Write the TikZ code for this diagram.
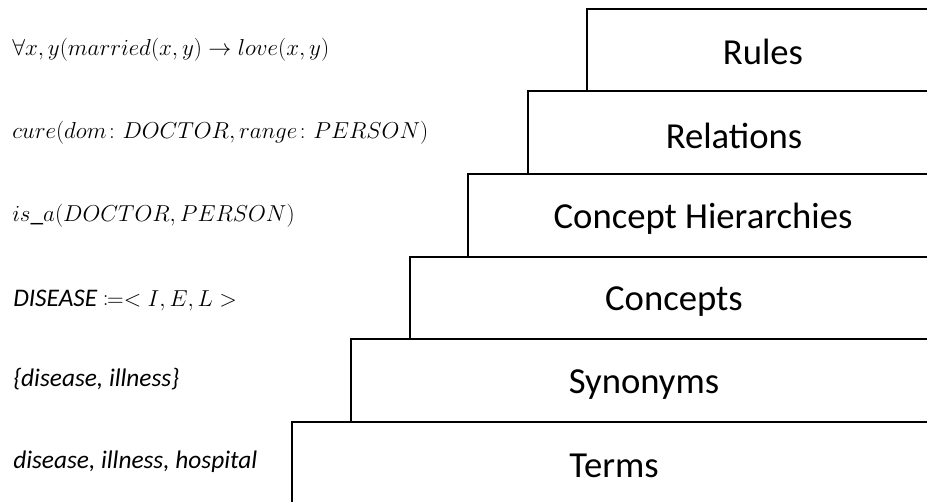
\documentclass[tikz,border=0pt]{standalone}
\usepackage{mathtools}
\usepackage{fontspec}
\setmainfont{Carlito}

\begin{document}
\begin{tikzpicture}[x=0.75pt,y=-0.75pt]
    \tikzset{layer/.style = {anchor=base, inner sep=0pt, font=\fontsize{27.5}{33}\selectfont}}
    \tikzset{sample/.style = {anchor=base west, inner sep=0pt, font=\fontsize{19}{23}\selectfont}}
    \tikzset{stair/.style = {draw=black, line width=1.4pt}}

    \clip (0,0) rectangle (927,501);

    % steps
    \draw[stair] (587,91) -- (587,9) -- (940,9);
    \draw[stair] (528,174) -- (528,91) -- (940,91);
    \draw[stair] (468,257) -- (468,174) -- (940,174);
    \draw[stair] (410,339) -- (410,257) -- (940,257);
    \draw[stair] (351,422) -- (351,339) -- (940,339);
    \draw[stair] (292,510) -- (292,422) -- (940,422);

    % layers
    \node[layer] (rules) at (763,64) {Rules};
    \node[layer] (relations) at (734,148) {Relations};
    \node[layer] (hierarchies) at (703,228) {Concept Hierarchies};
    \node[layer] (concepts) at (674,310) {Concepts};
    \node[layer] (synonyms) at (644,393) {Synonyms};
    \node[layer] (terms) at (614,477) {Terms};

    % examples
    \node[sample] (exrules) at (12,55) {$\forall x,y(married(x,y)\rightarrow love(x,y)$};
    \node[sample] (exrelations) at (12,138) {$cure(dom\colon DOCTOR,range\colon PERSON)$};
    \node[sample] (exhierarchies) at (12,221) {$is\_a(DOCTOR,PERSON)$};
    \node[sample] (exconcepts) at (13,306) {\itshape DISEASE $\coloneqq< I,E,L >$};
    \node[sample] (exsynonyms) at (13,386) {\itshape\{disease, illness\}};
    \node[sample] (exterms) at (13,468) {\itshape disease, illness, hospital};
\end{tikzpicture}
\end{document}
